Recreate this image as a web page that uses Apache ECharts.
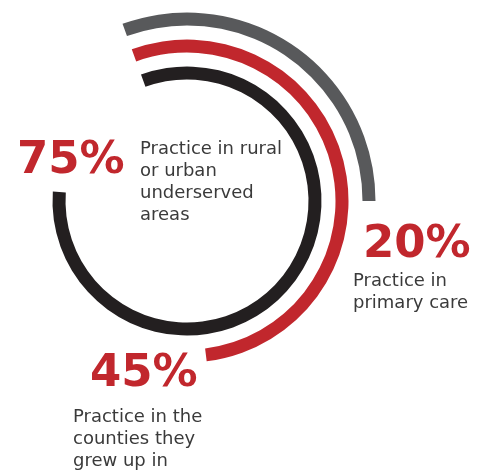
<!DOCTYPE html>
<html>
<head>
<meta charset="utf-8">
<script src="https://cdn.jsdelivr.net/npm/echarts@6/dist/echarts.min.js"></script>
<style>
  html, body { margin: 0; padding: 0; background: #fff; }
  #chart { width: 481px; height: 470px; }
</style>
</head>
<body>
<div id="chart"></div>
<script>
  // stats shown as big numbers, inner ring -> outer ring
  var statValues = [75, 45, 20];
  var statCaptions = [
    'Practice in rural\nor urban\nunderserved\nareas',
    'Practice in the\ncounties they\ngrew up in',
    'Practice in\nprimary care'
  ];
  // how far each ring sweeps round the circle, in degrees
  var arcSweep = [294, 193, 110];
  var ringColors = ['#231f20', '#c1272d', '#58595b'];

  var center = [187, 201];
  var ringRadius = [128, 155, 182];
  var ringWidth = 13;

  var myChart = echarts.init(document.getElementById('chart'));

  var series = arcSweep.map(function (sweep, i) {
    return {
      type: 'pie',
      silent: true,
      center: center,
      radius: [ringRadius[i] - ringWidth / 2, ringRadius[i] + ringWidth / 2],
      startAngle: 110,
      clockwise: true,
      label: { show: false },
      labelLine: { show: false },
      emphasis: { disabled: true },
      animation: false,
      data: [
        { value: sweep, itemStyle: { color: ringColors[i] } },
        { value: 360 - sweep, itemStyle: { color: 'transparent' } }
      ]
    };
  });

  // label positions [number x, number y, caption x, caption y]
  var labelPos = [
    [17, 139, 140, 138],
    [90, 352, 73, 406],
    [363, 223, 353, 270]
  ];

  var graphic = [];
  statValues.forEach(function (v, i) {
    var p = labelPos[i];
    graphic.push({
      type: 'text',
      x: p[0], y: p[1],
      silent: true,
      style: {
        text: v + '%',
        font: 'bold 45px "DejaVu Sans"',
        fill: '#c1272d',
        lineHeight: 45,
        verticalAlign: 'top'
      }
    });
    graphic.push({
      type: 'text',
      x: p[2], y: p[3],
      silent: true,
      style: {
        text: statCaptions[i],
        font: '18px "DejaVu Sans"',
        fill: '#3a3a3a',
        lineHeight: 22,
        verticalAlign: 'top'
      }
    });
  });

  var option = {
    backgroundColor: '#fff',
    series: series,
    graphic: graphic
  };
  myChart.setOption(option);
</script>
</body>
</html>
